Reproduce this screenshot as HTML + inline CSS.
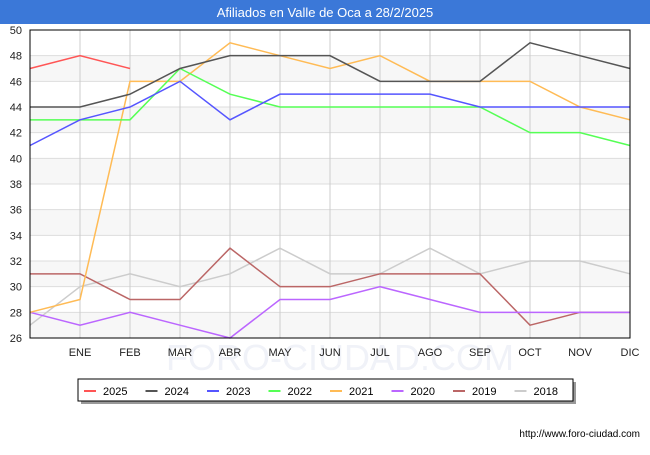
<!DOCTYPE html>
<html><head><meta charset="utf-8"><style>
body{margin:0;background:#fff;font-family:"Liberation Sans",sans-serif}
</style></head><body>
<svg id="c" width="650" height="450" xmlns="http://www.w3.org/2000/svg" font-family="Liberation Sans, sans-serif"></svg>
<script>
const months=["","ENE","FEB","MAR","ABR","MAY","JUN","JUL","AGO","SEP","OCT","NOV","DIC"];
const yTicks=[26,28,30,32,34,36,38,40,42,44,46,48,50];
const s2025=[47,48,47];
const s2024=[44,44,45,47,48,48,48,46,46,46,49,48,47];
const s2023=[41,43,44,46,43,45,45,45,45,44,44,44,44];
const s2022=[43,43,43,47,45,44,44,44,44,44,42,42,41];
const s2021=[28,29,46,46,49,48,47,48,46,46,46,44,43];
const s2020=[28,27,28,27,26,29,29,30,29,28,28,28,28];
const s2019=[31,31,29,29,33,30,30,31,31,31,27,28,28];
const s2018=[27,30,31,30,31,33,31,31,33,31,32,32,31];
const seriesNames=["2025","2024","2023","2022","2021","2020","2019","2018"];
const seriesData=[s2025,s2024,s2023,s2022,s2021,s2020,s2019,s2018];
const colors=["#ff5555","#555555","#5555ff","#55ff55","#ffbb55","#bb66ff","#bb6666","#cccccc"];
const svg=document.getElementById('c');const NS="http://www.w3.org/2000/svg";
const L=30,R=630,T=30,B=338,ymin=26,ymax=50;
const x=i=>L+i*(R-L)/12;
const y=v=>B-(v-ymin)*(B-T)/(ymax-ymin);
function el(t,a,p){const e=document.createElementNS(NS,t);for(const k in a)e.setAttribute(k,a[k]);(p||svg).appendChild(e);return e;}
let tb=el('rect',{x:0,y:0,width:650,height:24,fill:'#3b78d8'});


let tt=el('text',{x:325,y:17,'text-anchor':'middle',fill:'#fff','font-size':13});tt.textContent="Afiliados en Valle de Oca a 28/2/2025";


for(let i=0;i<yTicks.length-1;i++){if(i%2===0){let r=el('rect',{x:L,y:y(yTicks[i+1]),width:R-L,height:y(yTicks[i])-y(yTicks[i+1]),fill:'#f7f7f7'});

}}
let wm=el('text',{x:340,y:370,'text-anchor':'middle','font-size':36,fill:'#f0f2f8'});wm.textContent="FORO-CIUDAD.COM";


yTicks.forEach(v=>{let g=el('line',{x1:L,x2:R,y1:y(v),y2:y(v),stroke:'#dddddd'});


let t=el('text',{x:L-8,y:y(v)+4,'text-anchor':'end','font-size':11,fill:'#222'});t.textContent=v;

});
months.forEach((m,i)=>{if(i>0&&i<12){let g=el('line',{x1:x(i),x2:x(i),y1:T,y2:B,stroke:'#cccccc'});

}
if(m){let t=el('text',{x:x(i),y:B+18,'text-anchor':'middle','font-size':11,fill:'#222'});t.textContent=m;

}});
for(let k=seriesData.length-1;k>=0;k--){const d=seriesData[k];
let p=el('polyline',{points:d.map((v,i)=>x(i)+','+y(v)).join(' '),fill:'none',stroke:colors[k],'stroke-width':1.5});

}
let fr=el('rect',{x:L,y:T,width:R-L,height:B-T,fill:'none',stroke:'#000'});


let ls=el('rect',{x:81,y:382,width:495,height:22,fill:'#999'});


let lg=el('rect',{x:78,y:379,width:495,height:22,fill:'#fff',stroke:'#000'});


seriesNames.forEach((n,k)=>{const lx=84+k*61.5;
let ln=el('line',{x1:lx,x2:lx+12,y1:391,y2:391,stroke:colors[k],'stroke-width':2});


let t=el('text',{x:lx+19,y:395,'font-size':11,fill:'#000'});t.textContent=n;

});
let u=el('text',{x:640,y:437,'text-anchor':'end','font-size':10,fill:'#000'});u.textContent="http://www.foro-ciudad.com";


</script>
</body></html>
